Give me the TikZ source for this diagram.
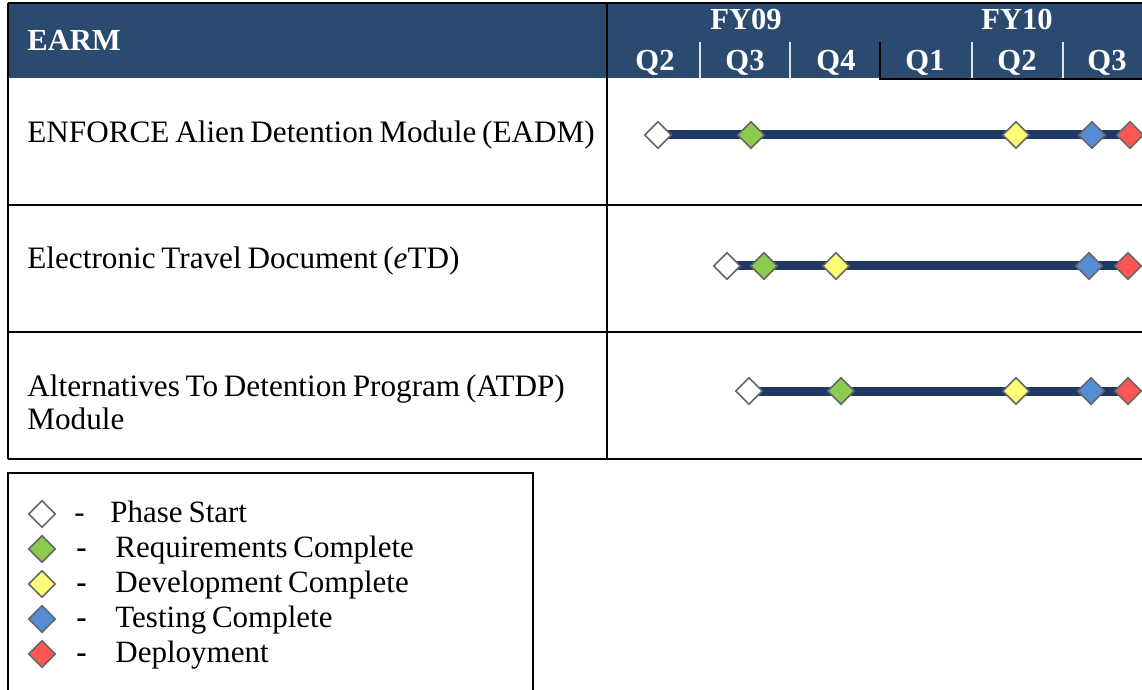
\documentclass[tikz,border=0pt]{standalone}
\usepackage{fontspec}
\setmainfont{Liberation Serif}
\usetikzlibrary{shapes.geometric,backgrounds}
\definecolor{hdr}{HTML}{2B4A6F}
\definecolor{barc}{HTML}{1F3864}
\definecolor{mgreen}{HTML}{8DCB4F}
\definecolor{myellow}{HTML}{FFFF77}
\definecolor{mblue}{HTML}{558ED5}
\definecolor{mred}{HTML}{FF5555}
\definecolor{dgray}{HTML}{666666}
\newcommand\tightsp{\spaceskip=2.9pt plus 0.5pt\relax}
\tikzset{
  ms/.style={diamond,draw=dgray,line width=0.8pt,inner sep=0pt,minimum width=13.5pt,minimum height=13.5pt},
  mwhite/.style={ms,fill=white},
  mgr/.style={ms,fill=mgreen},
  mye/.style={ms,fill=myellow},
  mbl/.style={ms,fill=mblue},
  mre/.style={ms,fill=mred},
  bar/.style={draw=barc,line width=4.5pt},
  rowtext/.style={anchor=base west,inner sep=0pt,font=\fontsize{15.6pt}{19pt}\selectfont\tightsp},
  hdrtext/.style={text=white,font=\bfseries\fontsize{15.3pt}{18pt}\selectfont,inner sep=0pt},
  legtext/.style={anchor=base west,inner sep=0pt,font=\fontsize{15.5pt}{18pt}\selectfont\tightsp},
  grid/.style={draw=black,line width=0.6pt},
  qsep/.style={draw=white!85!hdr,line width=0.6pt}
}
\begin{document}
\begin{tikzpicture}[x=0.5pt,y=-0.5pt]
\useasboundingbox (0,0) rectangle (1142,690);
% header
\fill[hdr] (8,3) rectangle (1142,78);
\node[hdrtext,anchor=base west] (earm) at (27,51) {EARM};
\node[hdrtext,anchor=base] (fy09) at (746,30) {FY09};
\node[hdrtext,anchor=base] (fy10) at (1017,30) {FY10};
\foreach \n/\x/\t in {q1/655/Q2,q2/745/Q3,q3/836/Q4,q4/925/Q1,q5/1017/Q2,q6/1107/Q3}
  \node[hdrtext,anchor=base] (\n) at (\x,71) {\t};
\foreach \x in {700,790,972,1063}
  \draw[qsep] (\x,42) -- (\x,78);
\draw[grid] (880,42) -- (880,79) -- (1142,79);
% grid
\draw[grid] (8,3) -- (1142,3);
\draw[grid] (8,3) -- (8,459);
\draw[grid] (607,3) -- (607,459);
\draw[grid] (8,205) -- (1142,205);
\draw[grid] (8,332) -- (1142,332);
\draw[grid] (8,459) -- (1142,459);
% row texts
\node[rowtext] (t1) at (27,143) {ENFORCE Alien Detention Module (EADM)};
\node[rowtext] (t2) at (27,269) {Electronic Travel Document (\textit{e}TD)};
\node[rowtext] (t3) at (27,396) {Alternatives To Detention Program (ATDP)};
\node[rowtext] (t3b) at (27,429) {Module};
% row 1
\node[mwhite] (a1) at (658,135) {};
\node[mgr] (a2) at (751,135) {};
\node[mye] (a3) at (1016,135) {};
\node[mbl] (a4) at (1092,135) {};
\node[mre] (a5) at (1130,135) {};
% row 2
\node[mwhite] (b1) at (727,266) {};
\node[mgr] (b2) at (764,266) {};
\node[mye] (b3) at (836,266) {};
\node[mbl] (b4) at (1089,266) {};
\node[mre] (b5) at (1128,266) {};
% row 3
\node[mwhite] (c1) at (749,391) {};
\node[mgr] (c2) at (841,391) {};
\node[mye] (c3) at (1016,391) {};
\node[mbl] (c4) at (1091,391) {};
\node[mre] (c5) at (1128,391) {};
\begin{scope}[on background layer]
\draw[bar] (a1.center) -- (a5.center);
\draw[bar] (b1.center) -- (b5.center);
\draw[bar] (c1.center) -- (c5.center);
\end{scope}
% legend
\draw[grid] (8,700) -- (8,473) -- (533,473) -- (533,700);
\node[mwhite] (l1) at (42,514) {};
\node[mgr] (l2) at (42,549) {};
\node[mye] (l3) at (42,584) {};
\node[mbl] (l4) at (42,619) {};
\node[mre] (l5) at (42,654) {};
\node[legtext] (d1) at (74,522) {-};
\node[legtext] (d2) at (76,557) {\textbf{-}};
\node[legtext] (d3) at (76,592) {\textbf{-}};
\node[legtext] (d4) at (76,627) {\textbf{-}};
\node[legtext] (d5) at (76,662) {\textbf{-}};
\node[legtext] (e1) at (110,522) {Phase Start};
\node[legtext] (e2) at (115,557) {Requirements Complete};
\node[legtext] (e3) at (115,592) {Development Complete};
\node[legtext] (e4) at (115,627) {Testing Complete};
\node[legtext] (e5) at (115,662) {Deployment};
\end{tikzpicture}
\end{document}
